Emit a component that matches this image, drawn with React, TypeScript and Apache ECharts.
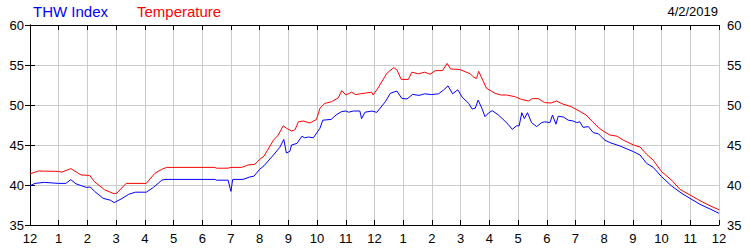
import React, { useEffect, useRef } from "react";
import * as echarts from "echarts";

// Hour of day (0 = midnight .. 24 = next midnight) and value in °F
const tempData: [number, number][] = [
  [0.0, 41.4], [0.3, 41.75], [1.0, 41.7], [1.1, 41.6], [1.42, 42.05], [1.78, 41.25],
  [2.08, 41.2], [2.25, 40.4], [2.6, 39.4], [2.93, 38.9], [3.03, 39.0], [3.35, 40.2],
  [4.05, 40.2], [4.35, 41.46], [4.59, 41.96], [4.76, 42.2], [6.44, 42.2], [6.5, 42.1],
  [6.9, 42.1], [7.0, 42.2], [7.37, 42.2], [7.6, 42.5], [7.84, 42.6], [8.0, 43.2],
  [8.15, 43.6], [8.48, 45.6], [8.65, 46.25], [8.82, 47.4], [8.93, 47.1], [9.11, 46.75],
  [9.23, 46.9], [9.35, 47.9], [9.52, 48.0], [9.75, 47.75], [9.98, 48.2], [10.1, 49.6],
  [10.27, 50.2], [10.5, 50.4], [10.74, 50.9], [10.86, 51.8], [11.0, 51.25], [11.2, 51.6],
  [11.35, 51.3], [11.5, 51.4], [11.9, 51.6], [11.95, 51.25], [12.1, 52.0], [12.43, 53.96],
  [12.67, 54.67], [12.78, 54.4], [12.93, 53.2], [13.18, 53.2], [13.3, 54.1], [13.53, 53.9],
  [13.75, 54.1], [13.93, 53.85], [14.12, 54.3], [14.37, 54.3], [14.53, 55.2], [14.65, 54.5],
  [14.88, 54.46], [15.0, 54.4], [15.33, 53.9], [15.45, 53.5], [15.55, 53.3], [15.63, 54.2],
  [15.9, 52.1], [16.2, 51.46], [16.4, 51.25], [16.6, 51.25], [16.89, 51.04], [17.12, 50.7],
  [17.36, 50.5], [17.5, 50.8], [17.7, 50.8], [17.93, 50.3], [18.15, 50.25], [18.34, 50.5],
  [18.57, 50.1], [18.85, 49.8], [19.0, 49.5], [19.17, 49.17], [19.37, 48.75], [19.6, 47.9],
  [19.83, 47.1], [20.03, 46.6], [20.2, 46.25], [20.45, 46.1], [20.67, 45.6], [21.02, 45.0],
  [21.25, 44.75], [21.48, 43.83], [21.71, 43.1], [22.0, 41.67], [22.35, 40.6], [22.64, 39.46],
  [22.99, 38.75], [23.34, 38.04], [23.69, 37.4], [24.0, 36.9],
];

const thwData: [number, number][] = [
  [0.0, 39.9], [0.17, 40.2], [0.5, 40.33], [1.0, 40.2], [1.25, 40.2], [1.42, 40.67],
  [1.6, 40.15], [1.96, 39.7], [2.1, 39.75], [2.25, 39.2], [2.55, 38.33], [2.8, 38.1],
  [2.93, 37.8], [3.2, 38.3], [3.44, 38.84], [3.67, 39.1], [4.05, 39.1], [4.3, 39.7],
  [4.59, 40.6], [4.7, 40.7], [6.44, 40.7], [6.5, 40.6], [6.9, 40.6], [7.0, 39.2],
  [7.06, 40.7], [7.42, 40.7], [7.65, 41.0], [7.8, 41.1], [8.0, 41.96], [8.15, 42.4],
  [8.48, 43.75], [8.7, 44.7], [8.84, 45.7], [8.93, 44.0], [9.05, 44.2], [9.11, 45.0],
  [9.3, 45.2], [9.47, 46.1], [9.56, 45.9], [9.7, 46.0], [9.87, 45.9], [10.1, 47.1],
  [10.2, 48.1], [10.49, 48.2], [10.66, 48.75], [10.85, 49.17], [11.0, 49.25], [11.1, 49.1],
  [11.27, 49.25], [11.49, 49.25], [11.55, 48.3], [11.67, 49.1], [11.91, 49.25], [12.08, 49.08],
  [12.38, 50.42], [12.55, 51.46], [12.78, 51.75], [12.95, 50.83], [13.13, 50.75], [13.33, 51.33],
  [13.55, 51.2], [13.75, 51.4], [13.98, 51.3], [14.23, 51.4], [14.41, 51.875], [14.56, 52.4],
  [14.72, 51.4], [14.9, 51.9], [15.05, 51.0], [15.28, 50.2], [15.4, 49.5], [15.51, 49.6],
  [15.61, 50.6], [15.74, 49.6], [15.85, 48.54], [15.97, 49.0], [16.1, 49.29], [16.3, 48.8],
  [16.48, 48.2], [16.65, 47.6], [16.8, 46.96], [16.95, 47.4], [17.04, 47.4], [17.13, 49.04],
  [17.22, 48.3], [17.33, 49.04], [17.47, 47.8], [17.65, 47.3], [17.82, 47.8], [17.93, 47.9],
  [18.11, 47.8], [18.2, 48.75], [18.32, 47.6], [18.4, 48.6], [18.58, 48.5], [18.75, 48.1],
  [18.92, 48.0], [19.04, 47.8], [19.15, 47.9], [19.27, 47.2], [19.45, 47.3], [19.62, 46.54],
  [19.8, 46.4], [19.9, 46.04], [20.03, 45.6], [20.2, 45.3], [20.55, 44.875], [21.02, 44.17],
  [21.25, 43.75], [21.48, 42.7], [21.71, 42.2], [22.0, 41.04], [22.35, 39.875], [22.7, 38.96],
  [22.99, 38.33], [23.34, 37.58], [23.69, 37.0], [24.0, 36.46],
];

const hourLabels = ["12", "1", "2", "3", "4", "5", "6", "7", "8", "9", "10", "11",
  "12", "1", "2", "3", "4", "5", "6", "7", "8", "9", "10", "11", "12"];

const legendNames = ["THW Index", "Temperature"];
const dateLabel = "4/2/2019";

const FONT = "'Liberation Sans', Arial, sans-serif";

export default function App() {
  const ref = useRef<HTMLDivElement>(null);
  useEffect(() => {
    if (!ref.current) return;
    const chart = echarts.init(ref.current, undefined, { renderer: "svg" });
    const axisLine = { show: true, lineStyle: { color: "#000", width: 1 } };
    const tick = { show: true, inside: true, length: 5, lineStyle: { color: "#000", width: 1 } };
    chart.setOption({
      animation: false,
      backgroundColor: "#fff",
      grid: { left: 30, right: 31, top: 25, bottom: 25, containLabel: false },
      graphic: [
        { type: "text", left: 33, top: 4, style: { text: legendNames[0], fill: "#0000ff", font: `15px ${FONT}` } },
        { type: "text", left: 137, top: 4, style: { text: legendNames[1], fill: "#ff0000", font: `15px ${FONT}` } },
        { type: "text", right: 32, top: 5, style: { text: dateLabel, fill: "#000", font: `13px ${FONT}` } },
      ],
      xAxis: [
        {
          type: "value", min: 0, max: 24, interval: 1, position: "bottom",
          axisLine, axisTick: tick,
          axisLabel: {
            color: "#000", fontSize: 13, fontFamily: FONT, margin: 7,
            formatter: (v: number) => hourLabels[Math.round(v)] ?? "",
          },
          splitLine: { show: true, lineStyle: { color: "#cccccc", width: 1 } },
        },
        {
          type: "value", min: 0, max: 24, interval: 1, position: "top",
          axisLine, axisTick: tick, axisLabel: { show: false }, splitLine: { show: false },
        },
      ],
      yAxis: [
        {
          type: "value", min: 35, max: 60, interval: 5, position: "left",
          axisLine, axisTick: tick,
          axisLabel: { color: "#000", fontSize: 13, fontFamily: FONT, margin: 6 },
          splitLine: { show: true, lineStyle: { color: "#cccccc", width: 1 } },
        },
        {
          type: "value", min: 35, max: 60, interval: 5, position: "right",
          axisLine, axisTick: tick,
          axisLabel: { color: "#000", fontSize: 13, fontFamily: FONT, margin: 8 },
          splitLine: { show: false },
        },
      ],
      series: [
        {
          name: legendNames[0], type: "line", data: thwData, showSymbol: false,
          lineStyle: { color: "#0000ff", width: 1 }, itemStyle: { color: "#0000ff" },
        },
        {
          name: legendNames[1], type: "line", data: tempData, showSymbol: false,
          lineStyle: { color: "#ff0000", width: 1 }, itemStyle: { color: "#ff0000" },
        },
      ],
    });
    return () => chart.dispose();
  }, []);
  return (
    <div
      ref={ref}
      style={{ position: "fixed", left: 0, top: 0, width: 750, height: 250 }}
    />
  );
}
